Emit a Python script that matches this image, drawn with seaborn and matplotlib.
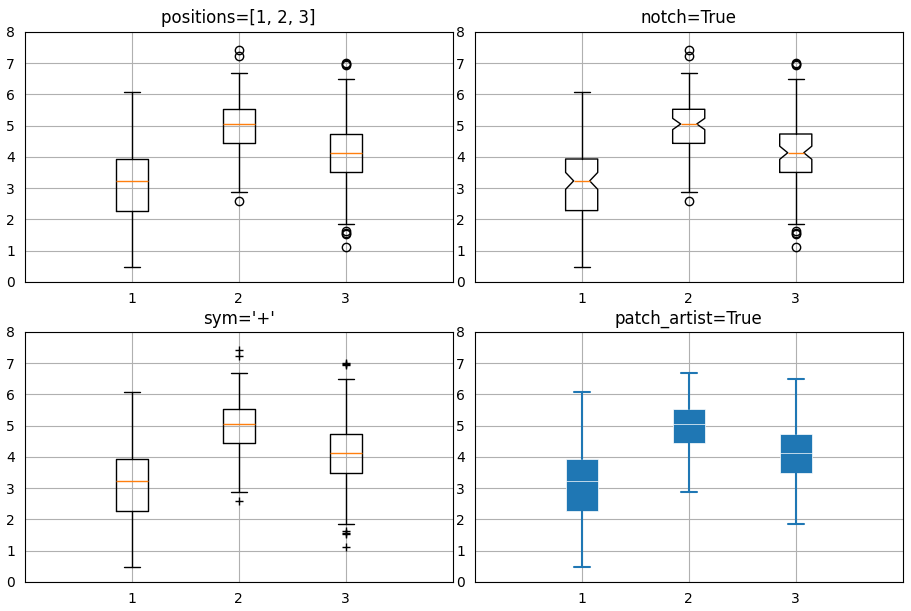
import matplotlib
matplotlib.use("Agg")
import matplotlib.pyplot as plt
import seaborn as sns

sns.set_style("white", rc={
    "axes.edgecolor": "black", "axes.linewidth": 1.0, "text.color": "black",
    "xtick.color": "black", "ytick.color": "black", "axes.labelcolor": "black",
    "grid.color": "#b0b0b0", "grid.linewidth": 0.8,
    "xtick.major.size": 0, "ytick.major.size": 0,
})
plt.rcParams["font.family"] = ["DejaVu Sans"]
plt.rcParams["font.size"] = 10

# Data
positions = [1, 2, 3]
medians = [3.23, 5.05, 4.13]
q1s = [2.28, 4.43, 3.50]
q3s = [3.93, 5.52, 4.73]
whislos = [0.49, 2.88, 1.86]
whishis = [6.07, 6.68, 6.50]
cilos = [2.96, 4.87, 3.92]
cihis = [3.50, 5.23, 4.34]
fliers = [[], [7.43, 7.24, 2.60], [6.99, 6.96, 6.93, 1.62, 1.57, 1.52, 1.13]]
titles = ["positions=[1, 2, 3]", "notch=True", "sym='+'", "patch_artist=True"]
yticks = [0, 1, 2, 3, 4, 5, 6, 7, 8]

stats = [dict(med=m, q1=a, q3=b, whislo=lo, whishi=hi, cilo=cl, cihi=ch, fliers=f)
         for m, a, b, lo, hi, cl, ch, f in zip(medians, q1s, q3s, whislos, whishis, cilos, cihis, fliers)]

fig, axs = plt.subplots(2, 2, figsize=(9.11, 6.11), dpi=100)
fig.subplots_adjust(left=0.027, right=0.991, top=0.948, bottom=0.0475, wspace=0.051, hspace=0.2)
axs = axs.ravel()

axs[0].bxp(stats, positions=positions)
axs[1].bxp(stats, positions=positions, shownotches=True)
axs[2].bxp(stats, positions=positions, flierprops=dict(marker="+", markeredgecolor="black"))
axs[3].bxp(stats, positions=positions, patch_artist=True, showfliers=False,
           medianprops={"color": "white", "linewidth": 0.5},
           boxprops={"facecolor": "C0", "edgecolor": "white", "linewidth": 0.5},
           whiskerprops={"color": "C0", "linewidth": 1.5},
           capprops={"color": "C0", "linewidth": 1.5})

for ax, t in zip(axs, titles):
    ax.set_title(t, fontsize=12)
    ax.set_xlim(0, 4)
    ax.set_ylim(0, 8)
    ax.set_xticks(positions)
    ax.set_xticklabels([str(p) for p in positions])
    ax.set_yticks(yticks)
    ax.grid(True)
    ax.set_axisbelow(True)

fig.savefig("out.png", dpi=100)
